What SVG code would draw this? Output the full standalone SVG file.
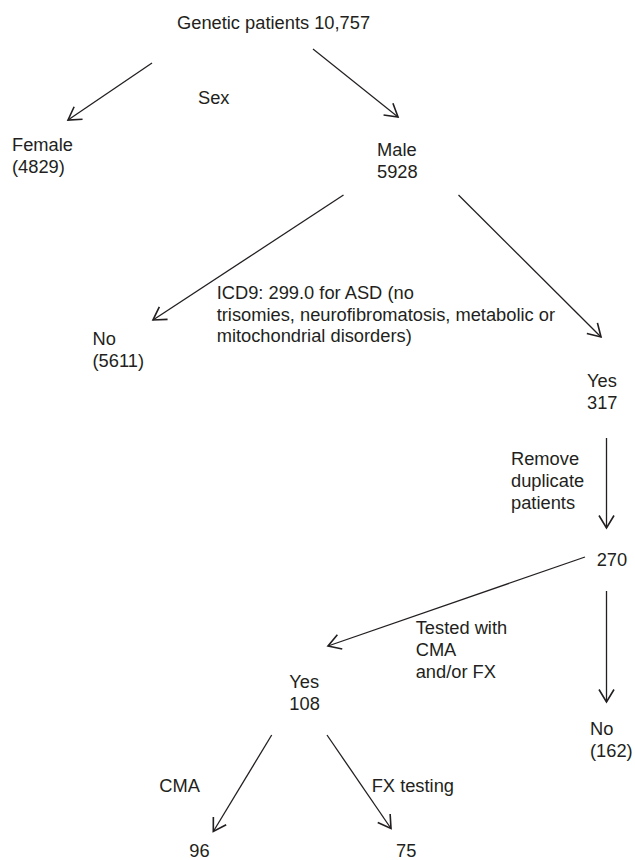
<svg xmlns="http://www.w3.org/2000/svg" width="635" height="860" viewBox="0 0 635 860">
<style>
text{font-family:"Liberation Sans",Arial,sans-serif;font-size:18.3px;fill:#231f20}
.c line{stroke:#231f20;stroke-width:1.3;fill:none;marker-end:url(#ah)}
</style>
<defs>
<marker id="ah" markerUnits="userSpaceOnUse" markerWidth="20" markerHeight="20" refX="0" refY="0" viewBox="-12 -8 14 16" orient="auto">
<path d="M-10,-6 L0,0 L-10,6" fill="none" stroke="#231f20" stroke-width="1.3"/>
</marker>
</defs>
<rect width="635" height="860" fill="#fff"/>
<g class="c" id="connectors">
<line x1="152" y1="63" x2="68" y2="120"/>
<line x1="313" y1="49" x2="398" y2="117"/>
<line x1="343.5" y1="195" x2="153" y2="320"/>
<line x1="458.5" y1="195" x2="601" y2="337"/>
<line x1="606.5" y1="438" x2="606.5" y2="528"/>
<line x1="585" y1="557" x2="328" y2="646"/>
<line x1="606.5" y1="591" x2="606.5" y2="702"/>
<line x1="271.7" y1="735" x2="213.3" y2="831.5"/>
<line x1="327" y1="735" x2="391" y2="828.5"/>
</g>
<g id="root"><text x="177" y="29">Genetic patients 10,757</text></g>
<g id="lbl-sex"><text x="198" y="104">Sex</text></g>
<g id="female"><text x="12" y="151">Female<tspan x="12" dy="22">(4829)</tspan></text></g>
<g id="male"><text x="377" y="156">Male<tspan x="377" dy="22">5928</tspan></text></g>
<g id="lbl-icd"><text x="216.7" y="299">ICD9: 299.0 for ASD (no<tspan x="216.7" dy="21.5">trisomies, neurofibromatosis, metabolic or</tspan><tspan x="216.7" dy="21.5">mitochondrial disorders)</tspan></text></g>
<g id="no1"><text x="92.5" y="345">No<tspan x="92.5" dy="22">(5611)</tspan></text></g>
<g id="yes1"><text x="587" y="387">Yes<tspan x="587" dy="22">317</tspan></text></g>
<g id="lbl-dup"><text x="511" y="465">Remove<tspan x="511" dy="22">duplicate</tspan><tspan x="511" dy="22">patients</tspan></text></g>
<g id="n270"><text x="596.7" y="566">270</text></g>
<g id="lbl-tested"><text x="415.7" y="634">Tested with<tspan x="415.7" dy="22">CMA</tspan><tspan x="415.7" dy="22">and/or FX</tspan></text></g>
<g id="yes2"><text x="289.3" y="688">Yes<tspan x="289.3" dy="22">108</tspan></text></g>
<g id="no2"><text x="590" y="735">No<tspan x="590" dy="22">(162)</tspan></text></g>
<g id="lbl-cma"><text x="159.3" y="792">CMA</text></g>
<g id="lbl-fx"><text x="371.7" y="792">FX testing</text></g>
<g id="n96"><text x="189.3" y="857">96</text></g>
<g id="n75"><text x="396" y="857">75</text></g>
</svg>
